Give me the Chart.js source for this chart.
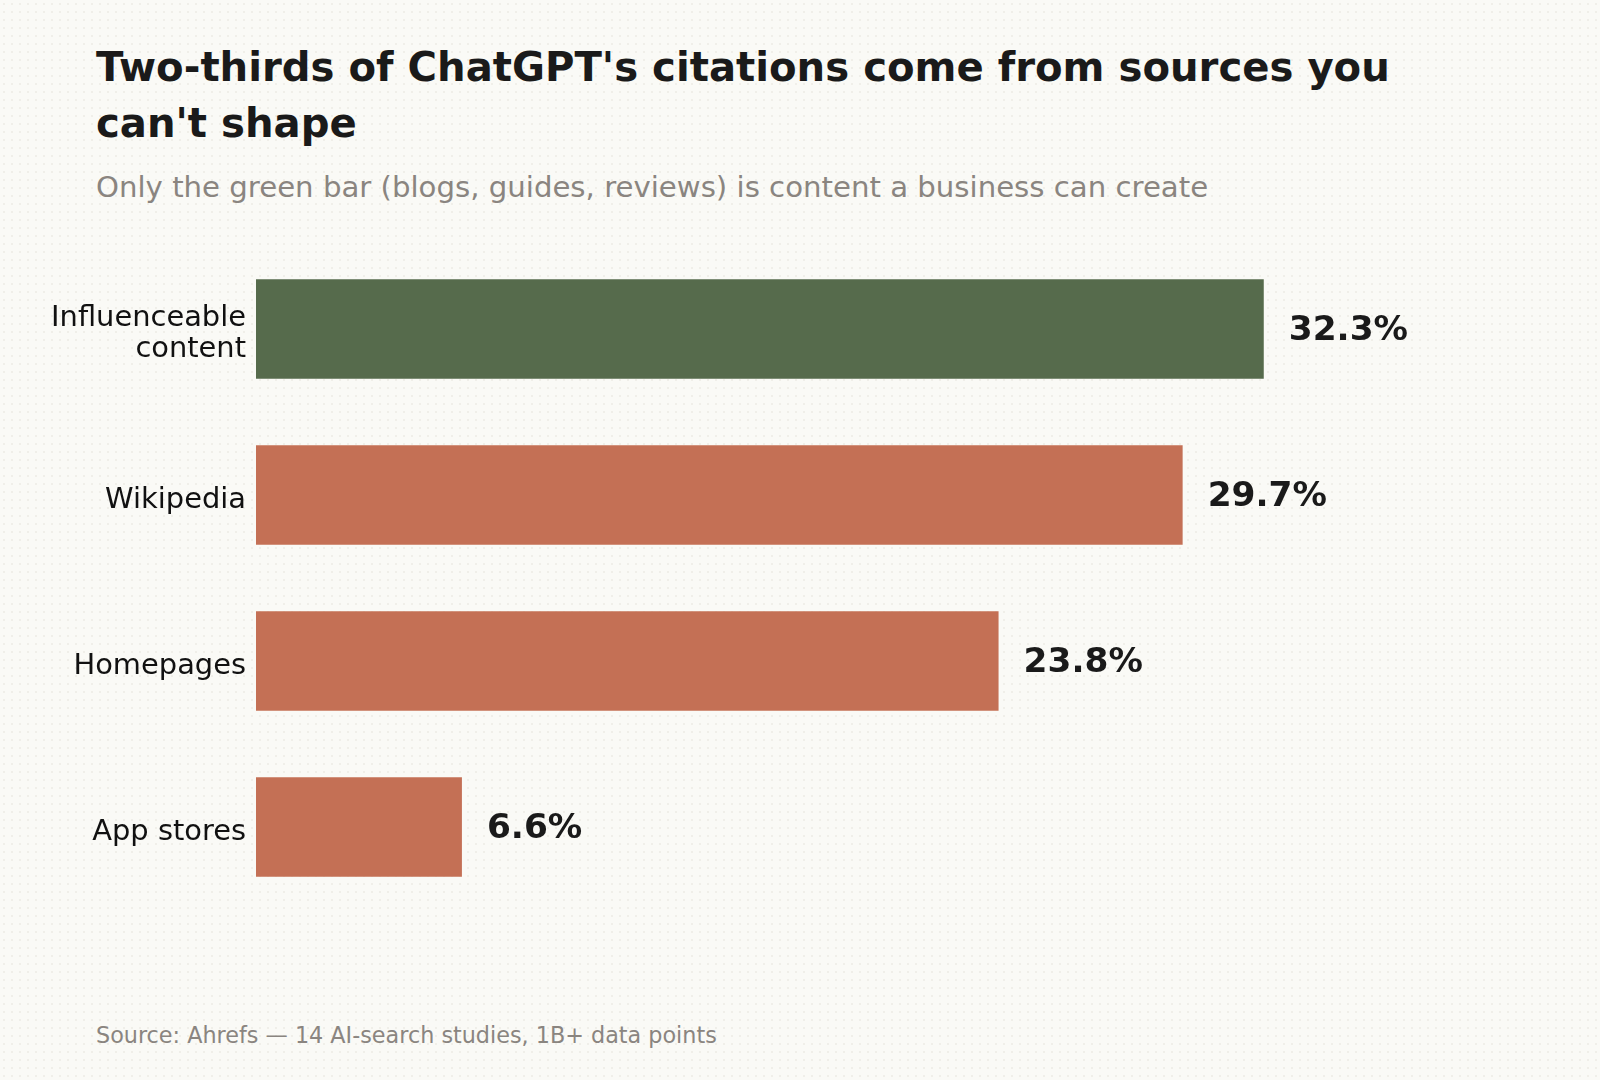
<!DOCTYPE html>
<html>
<head>
<meta charset="utf-8">
<script src="https://cdn.jsdelivr.net/npm/chart.js@4"></script>
<style>
  html, body { margin: 0; padding: 0; }
  body {
    width: 1600px; height: 1080px; position: relative; overflow: hidden;
    background-color: #fafaf6;
    background-image: radial-gradient(circle, #f0efe9 0.8px, transparent 1.2px);
    background-size: 8px 8px;
    font-family: "DejaVu Sans", sans-serif;
  }
  #title { position: absolute; left: 96px; top: 39px; font-size: 40.2px; line-height: 56px; font-weight: bold; color: #1a1a1a; }
  #subtitle { position: absolute; left: 96px; top: 173px; font-size: 29.2px; line-height: 29px; color: #8a8580; }
  #source { position: absolute; left: 96px; top: 1024px; font-size: 22.3px; line-height: 22px; color: #8a8580; }
  #wrap { position: absolute; left: 0; top: 0; width: 1600px; height: 1080px; }
</style>
</head>
<body>
<div id="title">Two-thirds of ChatGPT's citations come from sources you<br>can't shape</div>
<div id="subtitle">Only the green bar (blogs, guides, reviews) is content a business can create</div>
<div id="source">Source: Ahrefs — 14 AI-search studies, 1B+ data points</div>
<div id="wrap"><canvas id="chart" width="1600" height="1080"></canvas></div>
<script>
const categories = [['Influenceable', 'content'], 'Wikipedia', 'Homepages', 'App stores'];
const shares = [32.3, 29.7, 23.8, 6.6];
const barColors = ['#566b4c', '#c47055', '#c47055', '#c47055'];

const valueLabels = {
    id: 'valueLabels',
    afterDatasetsDraw(chart) {
        const ctx = chart.ctx;
        const meta = chart.getDatasetMeta(0);
        ctx.save();
        ctx.font = 'bold 34.4px "DejaVu Sans"';
        ctx.fillStyle = '#1a1a1a';
        ctx.textBaseline = 'middle';
        ctx.textAlign = 'left';
        meta.data.forEach((bar, i) => {
            ctx.fillText(shares[i].toFixed(1) + '%', bar.x + 25, bar.y + 2);
        });
        ctx.restore();
    }
};

new Chart(document.getElementById('chart').getContext('2d'), {
    type: 'bar',
    data: {
        labels: categories,
        datasets: [{
            data: shares,
            backgroundColor: barColors,
            barPercentage: 0.6,
            categoryPercentage: 1
        }]
    },
    options: {
        indexAxis: 'y',
        responsive: false,
        animation: false,
        layout: { padding: { left: 0, right: 96, top: 246, bottom: 170 } },
        plugins: { legend: { display: false }, tooltip: { enabled: false } },
        scales: {
            x: { display: false, min: 0, max: 40 },
            y: {
                grid: { display: false, drawTicks: false },
                border: { display: false },
                ticks: {
                    padding: 10,
                    labelOffset: 5,
                    color: '#111111',
                    font: { family: 'DejaVu Sans', size: 28.9, lineHeight: 1.09 }
                },
                afterFit(scale) { scale.width = 256; }
            }
        }
    },
    plugins: [valueLabels]
});
</script>
</body>
</html>
